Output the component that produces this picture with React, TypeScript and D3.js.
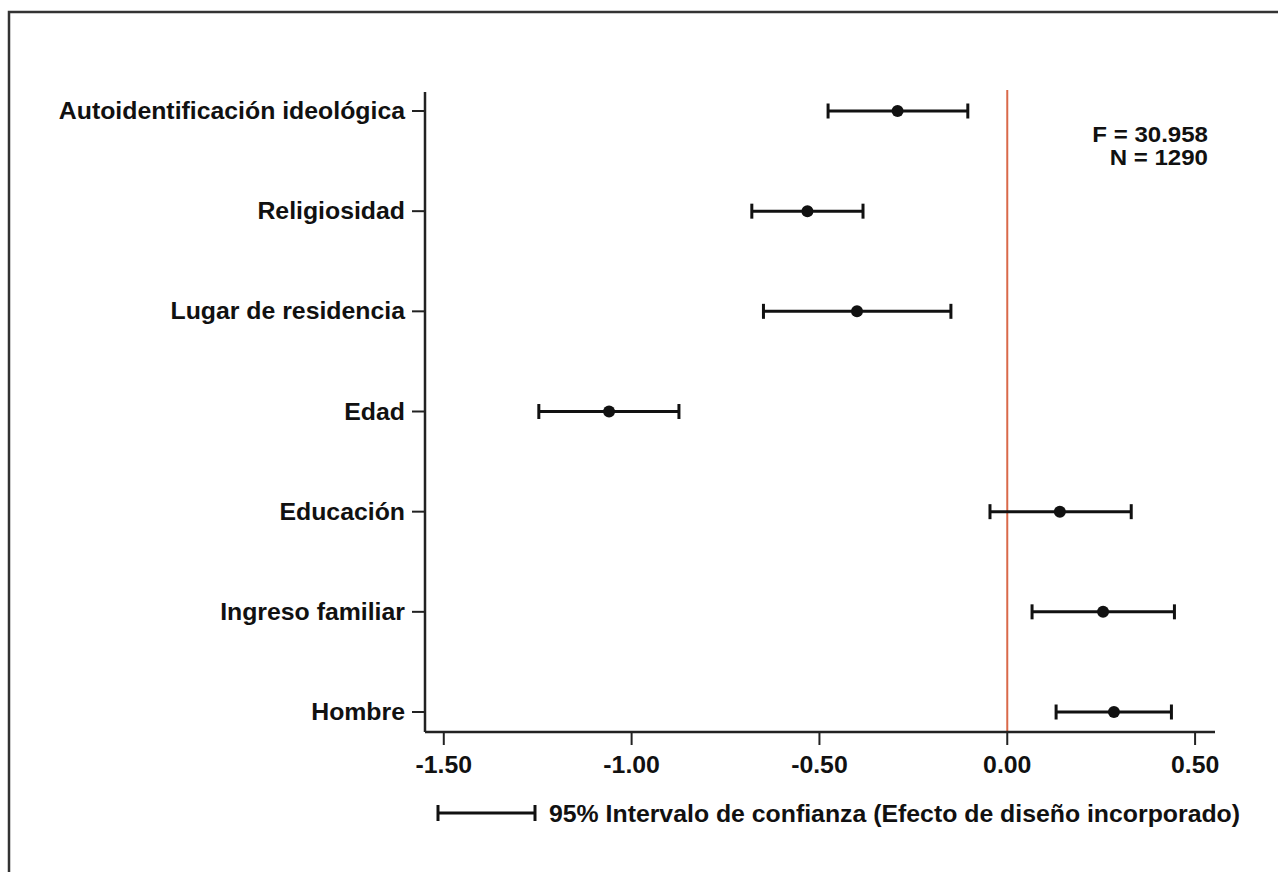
// Coefficient plot with 95% confidence intervals (design effect incorporated)
import React, { useEffect, useRef } from 'react';
import * as d3 from 'd3';

const categories = [
  'Autoidentificación ideológica',
  'Religiosidad',
  'Lugar de residencia',
  'Edad',
  'Educación',
  'Ingreso familiar',
  'Hombre',
];
const estimates = [-0.292, -0.532, -0.400, -1.060, 0.140, 0.255, 0.284];
const lowerCI = [-0.477, -0.680, -0.649, -1.247, -0.046, 0.066, 0.130];
const upperCI = [-0.105, -0.384, -0.150, -0.874, 0.330, 0.445, 0.437];
const xTicks = [-1.5, -1.0, -0.5, 0.0, 0.5];
const statLines = ['F = 30.958', 'N = 1290'];
const legendLabel = '95% Intervalo de confianza (Efecto de diseño incorporado)';

const FONT = '"Liberation Sans", Arial, Helvetica, sans-serif';

const App = () => {
  const svgRef = useRef<SVGSVGElement>(null);

  useEffect(() => {
    const width = 1278;
    const height = 872;
    const svg = d3.select(svgRef.current).attr('width', width).attr('height', height);
    svg.selectAll('*').remove();

    const data = categories.map((c, i) => ({
      name: c,
      est: estimates[i],
      lo: lowerCI[i],
      hi: upperCI[i],
    }));

    const xScale = d3.scaleLinear().domain([-1.55, 0.553]).range([425, 1215]);
    const yScale = d3.scalePoint().domain(categories).range([111, 712]);
    const plotTop = 92;
    const plotBottom = 732;

    // outer frame
    svg.append('rect')
      .attr('x', 9).attr('y', 12)
      .attr('width', 1320).attr('height', 900)
      .attr('fill', 'none')
      .attr('stroke', '#333')
      .attr('stroke-width', 2.5);

    const txt = (g, x, y, s, anchor, size, sx) =>
      g.append('text')
        .attr('transform', `translate(${x},${y}) scale(${sx},1)`)
        .attr('text-anchor', anchor)
        .attr('font-family', FONT)
        .attr('font-weight', 'bold')
        .attr('font-size', size)
        .attr('fill', '#111')
        .text(s);

    // reference line at zero
    svg.append('line')
      .attr('x1', xScale(0)).attr('x2', xScale(0))
      .attr('y1', 90).attr('y2', plotBottom)
      .attr('stroke', '#d9694a')
      .attr('stroke-width', 2);

    // axes
    const axisG = svg.append('g').attr('stroke', '#222').attr('stroke-width', 2.5);
    axisG.append('line')
      .attr('x1', xScale.range()[0]).attr('x2', xScale.range()[1])
      .attr('y1', plotBottom).attr('y2', plotBottom);
    axisG.append('line')
      .attr('x1', 425).attr('x2', 425)
      .attr('y1', plotTop).attr('y2', plotBottom);

    xTicks.forEach(t => {
      axisG.append('line')
        .attr('x1', xScale(t)).attr('x2', xScale(t))
        .attr('y1', plotBottom).attr('y2', plotBottom + 13)
        .attr('stroke-width', 2);
      txt(svg, xScale(t), 773, t.toFixed(2), 'middle', 23, 1.08);
    });

    categories.forEach(c => {
      axisG.append('line')
        .attr('x1', 412).attr('x2', 425)
        .attr('y1', yScale(c)).attr('y2', yScale(c))
        .attr('stroke-width', 2);
      txt(svg, 405, yScale(c) + 8, c, 'end', 23, 1.08);
    });

    // error bars
    const capH = 7.5;
    const bars = svg.append('g').attr('stroke', '#111').attr('stroke-width', 3);
    data.forEach(d => {
      const y = yScale(d.name);
      bars.append('line')
        .attr('x1', xScale(d.lo)).attr('x2', xScale(d.hi))
        .attr('y1', y).attr('y2', y);
      [d.lo, d.hi].forEach(v => {
        bars.append('line')
          .attr('x1', xScale(v)).attr('x2', xScale(v))
          .attr('y1', y - capH).attr('y2', y + capH);
      });
    });

    svg.append('g').selectAll('circle')
      .data(data)
      .enter()
      .append('circle')
      .attr('cx', d => xScale(d.est))
      .attr('cy', d => yScale(d.name))
      .attr('r', 6)
      .attr('fill', '#111');

    // F and N
    statLines.forEach((s, i) => {
      txt(svg, 1208, 142 + i * 23, s, 'end', 21.5, 1.12);
    });

    // legend
    const lg = svg.append('g').attr('stroke', '#111').attr('stroke-width', 3);
    lg.append('line').attr('x1', 438).attr('x2', 535).attr('y1', 813).attr('y2', 813);
    lg.append('line').attr('x1', 438).attr('x2', 438).attr('y1', 805).attr('y2', 821);
    lg.append('line').attr('x1', 535).attr('x2', 535).attr('y1', 805).attr('y2', 821);
    txt(svg, 549, 822, legendLabel, 'start', 23, 1.08);
  }, []);

  return (
    <div style={{ position: 'absolute', left: 0, top: 0 }}>
      <svg ref={svgRef} style={{ display: 'block', background: '#fff' }}></svg>
    </div>
  );
};

export default App;
